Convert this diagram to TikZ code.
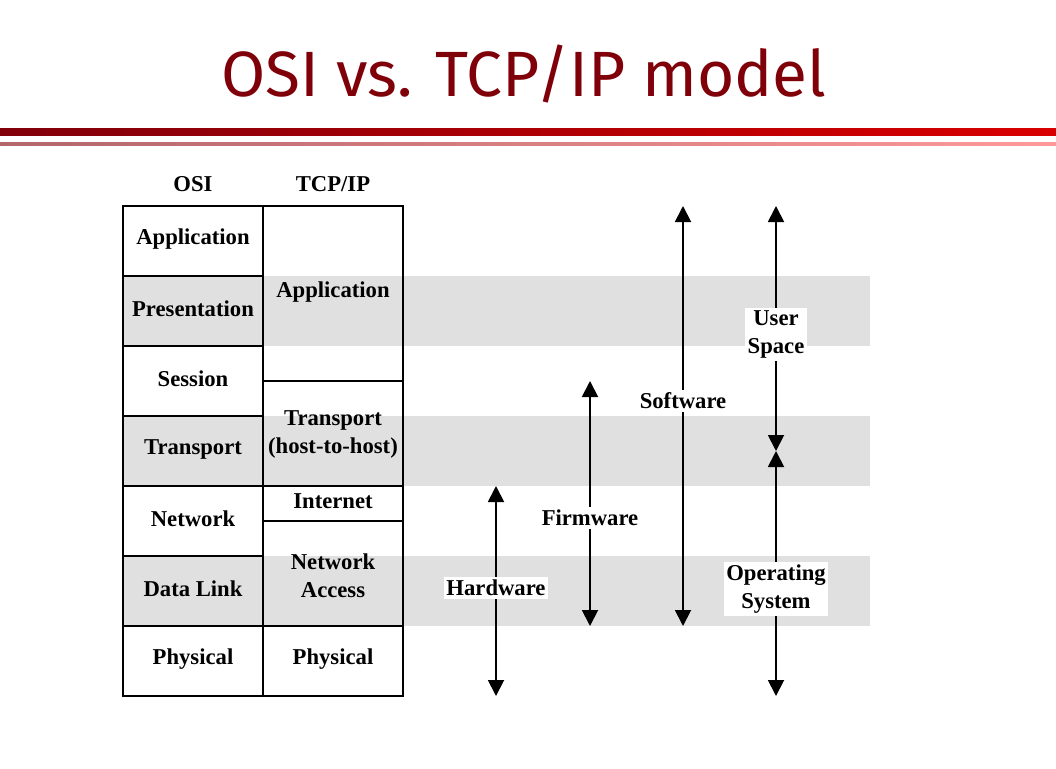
\documentclass[tikz,border=0pt]{standalone}
\usepackage{fontspec}
\setmainfont{Liberation Serif}
\newfontfamily\titlefont{Fira Sans}
\usetikzlibrary{arrows.meta}
\definecolor{titlered}{HTML}{80000A}
\definecolor{bandgray}{HTML}{E0E0E0}
\begin{document}
\begin{tikzpicture}[x=0.75pt,y=-0.75pt,
  lbl/.style={font=\bfseries\fontsize{17}{21}\selectfont,align=center,inner sep=1pt},
  wlbl/.style={lbl,fill=white,inner sep=2pt},
  cell/.style={draw=black,line width=1.5pt},
  dbl/.style={line width=1.4pt,{Triangle[length=12pt,width=12pt]}-{Triangle[length=12pt,width=12pt]}}]
\useasboundingbox (0,0) rectangle (1056,768);
\node[font=\titlefont\fontsize{48}{52}\selectfont,text=titlered] (title) at (524,74) {OSI vs. TCP/IP model};
\shade[left color=titlered,right color=red!85!black] (0,128) rectangle (1056,135);
\shade[left color=titlered!60,right color=red!40] (0,142) rectangle (1056,145);
% bands
\foreach \y in {276,416,556} \fill[bandgray] (123,\y) rectangle (870,\y+70);
% table
\foreach \a/\b in {206/276,276/346,346/416,416/486,486/556,556/626,626/696} \draw[cell] (123,\a) rectangle (263,\b);
\foreach \a/\b in {206/381,381/486,486/521,521/626,626/696} \draw[cell] (263,\a) rectangle (403,\b);
\node[lbl] (hosi) at (193,184) {OSI};
\node[lbl] (htcp) at (333,184) {TCP/IP};
\node[lbl] (o1) at (193,239) {Application};
\node[lbl] (o2) at (193,309) {Presentation};
\node[lbl] (o3) at (193,379) {Session};
\node[lbl] (o4) at (193,449) {Transport};
\node[lbl] (o5) at (193,519) {Network};
\node[lbl] (o6) at (193,589) {Data Link};
\node[lbl] (o7) at (193,659) {Physical};
\node[lbl] (t1) at (333,292) {Application};
\node[lbl] (t2) at (333,434) {Transport\\(host-to-host)};
\node[lbl] (t3) at (333,501) {Internet};
\node[lbl] (t4) at (333,576) {Network\\Access};
\node[lbl] (t5) at (333,659) {Physical};
% arrows
\coordinate (hwT) at (496,486); \coordinate (hwB) at (496,696);
\coordinate (fwT) at (590,381); \coordinate (fwB) at (590,626);
\coordinate (swT) at (683,206); \coordinate (swB) at (683,626);
\coordinate (usT) at (776,206); \coordinate (usB) at (776,451);
\coordinate (osT) at (776,451); \coordinate (osB) at (776,696);
\draw[dbl] (hwT) -- (hwB);
\draw[dbl] (fwT) -- (fwB);
\draw[dbl] (swT) -- (swB);
\draw[dbl] (usT) -- (usB);
\draw[dbl] (osT) -- (osB);
\node[wlbl] (hw) at (496,588) {Hardware};
\node[wlbl] (fw) at (590,518) {Firmware};
\node[wlbl] (sw) at (683,401) {Software};
\node[wlbl] (us) at (776,334) {User\\Space};
\node[wlbl] (os) at (776,589) {Operating\\System};
\end{tikzpicture}
\end{document}
